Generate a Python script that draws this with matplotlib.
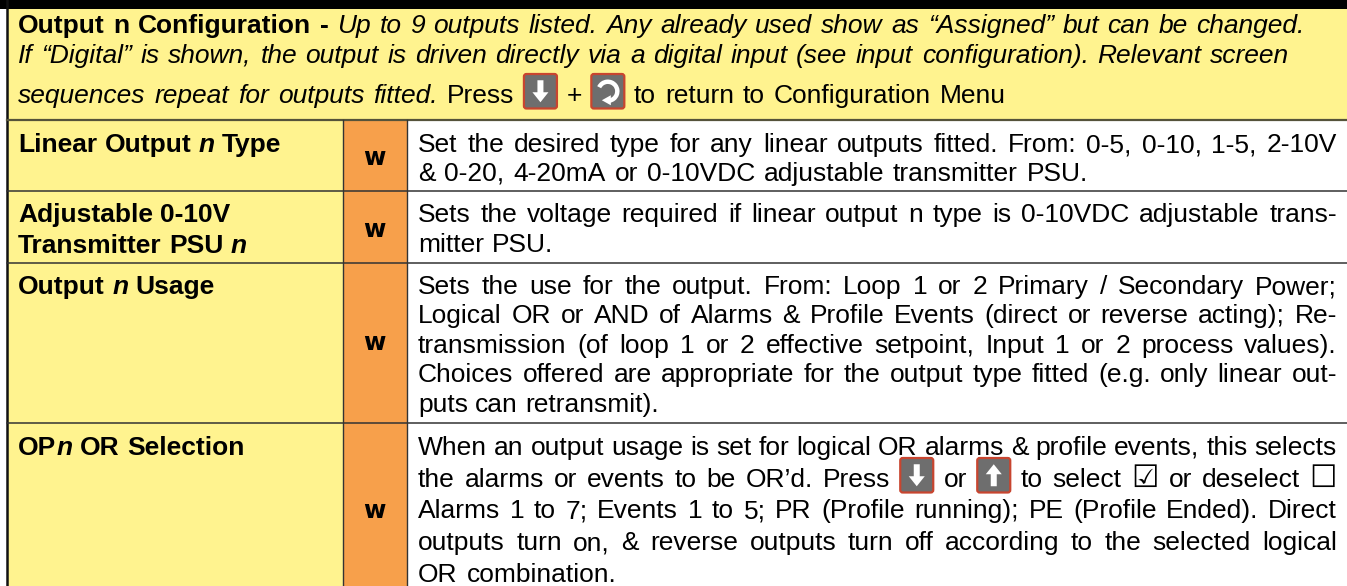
import re
import matplotlib
matplotlib.use("Agg")
import matplotlib.pyplot as plt
from matplotlib.patches import Rectangle, FancyBboxPatch, Polygon, Arc

# ---- content ----
HEADER_LINES = [
    "<b>Output n Configuration -</b> <i>Up to 9 outputs listed. Any already used show as “Assigned” but can be changed.</i>",
    "<i>If “Digital” is shown, the output is driven directly via a digital input (see input configuration). Relevant screen</i>",
    "<i>sequences repeat for outputs fitted.</i> Press [down] + [turn] to return to Configuration Menu",
]
ROW_LABELS = [
    ["<b>Linear Output </b><bi>n</bi><b> Type</b>"],
    ["<b>Adjustable 0-10V</b>", "<b>Transmitter PSU </b><bi>n</bi>"],
    ["<b>Output </b><bi>n</bi><b> Usage</b>"],
    ["<b>OP</b><bi>n</bi><b> OR Selection</b>"],
]
ROW_MODES = ["w", "w", "w", "w"]
ROW_TEXT = [
    ["Set the desired type for any linear outputs fitted. From: 0-5, 0-10, 1-5, 2-10V",
     "& 0-20, 4-20mA or 0-10VDC adjustable transmitter PSU."],
    ["Sets the voltage required if linear output n type is 0-10VDC adjustable trans-",
     "mitter PSU."],
    ["Sets the use for the output. From: Loop 1 or 2 Primary / Secondary Power;",
     "Logical OR or AND of Alarms & Profile Events (direct or reverse acting); Re-",
     "transmission (of loop 1 or 2 effective setpoint, Input 1 or 2 process values).",
     "Choices offered are appropriate for the output type fitted (e.g. only linear out-",
     "puts can retransmit)."],
    ["When an output usage is set for logical OR alarms & profile events, this selects",
     "the alarms or events to be OR’d. Press [down] or [up] to select ☑ or deselect ☐",
     "Alarms 1 to 7; Events 1 to 5; PR (Profile running); PE (Profile Ended). Direct",
     "outputs turn on, & reverse outputs turn off according to the selected logical",
     "OR combination."],
]

# ---- layout (pixels) ----
W, H = 1347, 586
YELLOW, ORANGE = "#FFF38F", "#F7A04B"
TOP = 9
HEAD_BOTTOM = 120
ROW_EDGES = [120, 191, 263, 423, 586]
X_LEFT, X_A, X_B = 7, 342.5, 407
FS = 19.0
LABEL_X, DESC_X, DESC_R = 18, 418, 1337
HEAD_BASE = [33, 63, 103]
HEAD_END = [1305, 1289, 1006]
LABEL_BASE = [[152], [222, 253], [294], [455]]
DESC_BASE = [[152, 181], [222, 252], [294, 323, 353, 382, 412], [455, 487, 518, 550, 582]]
DESC_END = [[DESC_R, 1088], [DESC_R, None], [DESC_R]*4 + [None], [DESC_R]*4 + [617]]
MODE_BASE = [165, 237, 350, 518]
ICON_W, ICON_UP, ICON_DN = 34, 29.5, 6

fig = plt.figure(figsize=(W/100, H/100), dpi=100, facecolor="white")
ax = fig.add_axes([0, 0, 1, 1])
ax.set_xlim(0, W); ax.set_ylim(H, 0); ax.axis("off")
rend = fig.canvas.get_renderer()

STY = {
    "r": dict(weight="normal", style="normal"),
    "b": dict(weight="bold", style="normal"),
    "i": dict(weight="normal", style="italic"),
    "bi": dict(weight="bold", style="italic"),
}

def text(x, y, s, sty="r"):
    box = s in "☑☐"
    fam = ["DejaVu Sans"] if box else ["Liberation Sans"]
    return ax.text(x, y, s, family=fam, fontsize=22 if box else FS, color="black",
                   va="baseline", ha="left", **STY[sty])

def width(s, sty):
    t = text(0, 0, s, sty)
    w = t.get_window_extent(rend).width
    t.remove()
    return w

def parse(line):
    words, cur, sty = [], [], "r"
    for part in re.split(r"(</?(?:bi|b|i)>)", line):
        if re.fullmatch(r"</(?:bi|b|i)>", part):
            sty = "r"
        elif re.fullmatch(r"<(?:bi|b|i)>", part):
            sty = part[1:-1]
        else:
            chunks = part.split(" ")
            for k, c in enumerate(chunks):
                if k > 0:
                    words.append(cur); cur = []
                if c:
                    cur.append((c, sty))
    words.append(cur)
    return [w for w in words if w]

def icon(x, base, kind):
    top, bot = base - ICON_UP, base + ICON_DN
    ax.add_patch(FancyBboxPatch((x + 2, top + 2), ICON_W - 4, bot - top - 4,
                 boxstyle="round,pad=1.5,rounding_size=2.5", fc="#6E6E6E", ec="#C8452F", lw=1.6, zorder=3))
    cx, cy = x + ICON_W/2, (top + bot)/2
    if kind == "turn":
        ax.add_patch(Arc((cx, cy), 19, 19, theta1=205, theta2=440, ec="white", lw=3.2, zorder=4))
        ax.add_patch(Polygon([(cx+3, cy+4), (cx+3, cy+14), (cx-6, cy+9)], fc="white", ec="none", zorder=4))
    else:
        s = 1 if kind == "down" else -1
        pts = [(cx-3, cy-11*s), (cx+3, cy-11*s), (cx+3, cy+1*s), (cx+8, cy+1*s),
               (cx, cy+11*s), (cx-8, cy+1*s), (cx-3, cy+1*s)]
        ax.add_patch(Polygon(pts, fc="white", ec="none", zorder=4))

def draw_line(x0, base, line, end=None):
    words = parse(line)
    widths = []
    for w in words:
        if w[0][0].startswith("["):
            widths.append(ICON_W)
        else:
            widths.append(sum(width(s, st) for s, st in w))
    space = width("a a", "r") - 2*width("a", "r")
    gap = (end - x0 - sum(widths))/(len(words) - 1) if end is not None and len(words) > 1 else space
    x = x0
    for w, wd in zip(words, widths):
        if w[0][0].startswith("["):
            icon(x, base, w[0][0][1:-1])
        else:
            cx = x
            for s, st in w:
                text(cx, base, s, st)
                cx += width(s, st)
        x += wd + gap

# backgrounds
ax.add_patch(Rectangle((X_LEFT, TOP), W - X_LEFT, HEAD_BOTTOM - TOP, fc=YELLOW, ec="none"))
ax.add_patch(Rectangle((X_LEFT, HEAD_BOTTOM), X_A - X_LEFT, H - HEAD_BOTTOM, fc=YELLOW, ec="none"))
ax.add_patch(Rectangle((X_A, HEAD_BOTTOM), X_B - X_A, H - HEAD_BOTTOM, fc=ORANGE, ec="none"))
ax.add_patch(Rectangle((0, 0), W, TOP, fc="black", ec="none"))

# rules
ax.plot([X_LEFT, X_LEFT], [0, H], color="#111111", lw=1.8)
ax.plot([X_LEFT, W], [HEAD_BOTTOM]*2, color="#55533A", lw=1.6)
for y in ROW_EDGES[1:-1]:
    ax.plot([X_LEFT, W], [y, y], color="#333333", lw=1.1)
for x in (X_A, X_B):
    ax.plot([x, x], [HEAD_BOTTOM, H], color="#333333", lw=1.0)

# text
for line, base, end in zip(HEADER_LINES, HEAD_BASE, HEAD_END):
    draw_line(LABEL_X, base, line, end)
for labs, bases in zip(ROW_LABELS, LABEL_BASE):
    for line, base in zip(labs, bases):
        draw_line(LABEL_X, base, line)
for lines, bases, ends in zip(ROW_TEXT, DESC_BASE, DESC_END):
    for line, base, end in zip(lines, bases, ends):
        draw_line(DESC_X, base, line, end)
for m, base in zip(ROW_MODES, MODE_BASE):
    ax.text((X_A + X_B)/2, base, m, family="DejaVu Sans", weight="bold", fontsize=17.5,
            ha="center", va="baseline", color="black")

fig.savefig("out.png", dpi=100)
